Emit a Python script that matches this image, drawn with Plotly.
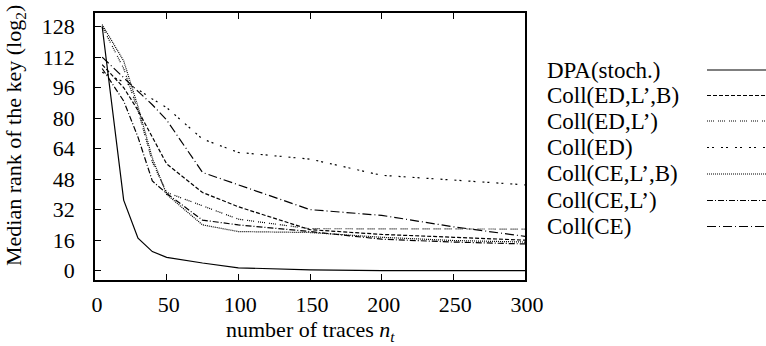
import plotly.graph_objects as go

# ---- data ----
n_traces = [5, 20, 30, 40, 50, 75, 100, 150, 200, 250, 300]
dpa_stoch = [128, 37, 17, 10, 7, 4, 1.5, 0.4, 0, 0, 0]
coll_ed_lp_b = [108, 96, 84, 70, 56, 41, 33.5, 21.5, 19, 17.5, 16]
coll_ed_lp = [128, 106, 84, 57, 41, 34, 27, 22, 22, 22, 21.8]
coll_ed = [104, 99, 95, 90, 85.5, 69, 62, 58.5, 50, 47.5, 45]
coll_ce_lp_b = [129, 110, 86, 59, 40, 24, 20.5, 20, 17.5, 15.8, 15]
coll_ce_lp = [106, 89, 70, 47, 40.5, 26.5, 24, 20.5, 16.5, 15, 14]
coll_ce = [112, 101, 94, 87, 79, 51.5, 45, 32, 29, 23, 18]

series_names = ["DPA(stoch.)", "Coll(ED,L’,B)", "Coll(ED,L’)", "Coll(ED)",
                "Coll(CE,L’,B)", "Coll(CE,L’)", "Coll(CE)"]
series_values = [dpa_stoch, coll_ed_lp_b, coll_ed_lp, coll_ed,
                 coll_ce_lp_b, coll_ce_lp, coll_ce]

x_ticks = [0, 50, 100, 150, 200, 250, 300]
y_ticks = [0, 16, 32, 48, 64, 80, 96, 112, 128]

# ---- styles ----
dashes = ["solid", "4px,2px", "1px,1px,1px,1px,1px,1px,1px,4px", "2px,3px,2px,7px",
          "1px,1px", "6px,2px,1px,2px", "9px,3px,1px,3px"]

FONT = "Liberation Serif"
W, H = 766, 346
L, R, T, B = 95, 241, 13, 66
PW, PH = W - L - R, H - T - B


def px(xp):
    return (xp - L) / PW


def py(yp):
    return (H - B - yp) / PH


fig = go.Figure()
for name, vals, d in zip(series_names, series_values, dashes):
    fig.add_trace(go.Scatter(x=n_traces, y=vals, mode="lines", name=name,
                             line=dict(color="black", width=1.2, dash=d),
                             showlegend=False))

# manual legend (gnuplot style: text left, sample right)
leg_y = [70, 95.5, 121, 147.5, 174, 200.5, 226.5]
for name, yy, d in zip(series_names, leg_y, dashes):
    fig.add_annotation(x=px(545), y=py(yy), xref="paper", yref="paper",
                       text=name, showarrow=False, xanchor="left", yanchor="middle",
                       font=dict(family=FONT, size=23, color="black"))
    fig.add_shape(type="line", xref="paper", yref="paper",
                  x0=px(707), x1=px(766), y0=py(yy), y1=py(yy),
                  line=dict(color="black", width=1.2, dash=d))

# axis titles
fig.add_annotation(x=px(310), y=py(331), xref="paper", yref="paper",
                   text="number of traces <i>n</i><sub><i>t</i></sub>", showarrow=False,
                   xanchor="center", yanchor="middle",
                   font=dict(family=FONT, size=22, color="black"))
fig.add_annotation(x=px(15), y=py(136), xref="paper", yref="paper",
                   text="Median rank of the key (log<sub>2</sub>)", showarrow=False,
                   textangle=-90, xanchor="center", yanchor="middle",
                   font=dict(family=FONT, size=22, color="black"))

fig.update_layout(
    width=W, height=H,
    margin=dict(l=L, r=R, t=T, b=B, autoexpand=False),
    paper_bgcolor="white", plot_bgcolor="white",
    font=dict(family=FONT, size=22, color="black"),
    showlegend=False,
)
fig.update_xaxes(range=[0, 300], tickvals=x_ticks, ticks="inside", ticklen=6,
                 tickcolor="black", showline=True, linecolor="black", linewidth=1.5,
                 mirror="ticks", showgrid=False, zeroline=False, automargin=False,
                 ticklabelstandoff=4, ticklabelshift=2,
                 tickfont=dict(family=FONT, size=22))
fig.update_yaxes(range=[-4.9, 135.1], tickvals=y_ticks, ticks="inside", ticklen=6,
                 tickcolor="black", showline=True, linecolor="black", linewidth=1.5,
                 mirror=True, showgrid=False, zeroline=False, automargin=False,
                 ticklabelstandoff=14, tickfont=dict(family=FONT, size=22))

fig.write_html("out.html",
               config={"displayModeBar": False},
               post_script="document.body.style.margin='0px';document.body.style.padding='0px';")
